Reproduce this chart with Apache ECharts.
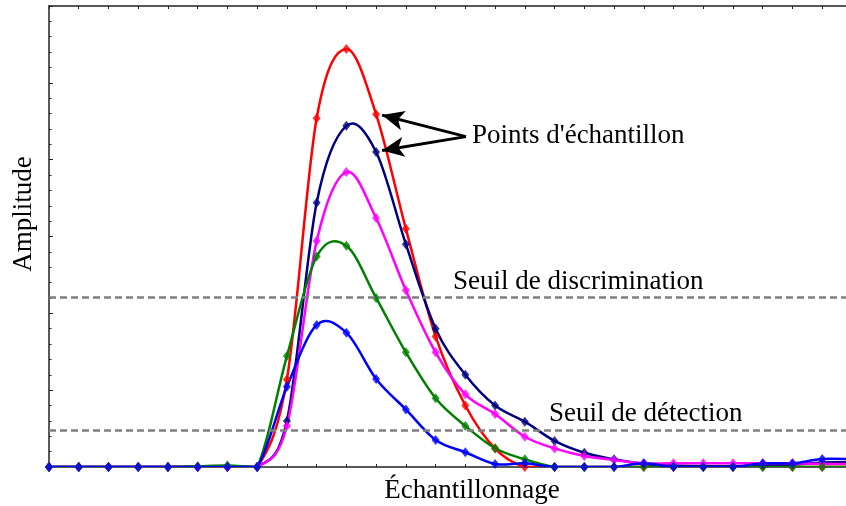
<!DOCTYPE html>
<html>
<head>
<meta charset="utf-8">
<script src="https://cdn.jsdelivr.net/npm/echarts@6/dist/echarts.min.js"></script>
<style>
    html, body { margin: 0; padding: 0; background: #fff; }
    #main { width: 846px; height: 506px; }
</style>
</head>
<body>
<div id="main"></div>
<script>
// sample index 0..27 (last one falls just outside the frame)
var samples = [0,1,2,3,4,5,6,7,8,9,10,11,12,13,14,15,16,17,18,19,20,21,22,23,24,25,26,27];

var redVals     = [0,0,0,0,0,0,0,0,5.7,22.7,27.2,22.95,15.5,8.5,4.0,1.2,0,0,0,0,0,0,0,0,0,0,0,0];
var navyVals    = [0,0,0,0,0,0,0,0,3.0,17.2,22.2,20.5,14.5,9.0,6.0,4.0,2.95,1.7,0.93,0.5,0.2,0.1,0.05,0.05,0.1,0.15,0.3,0.3];
var magentaVals = [0,0,0,0,0,0,0,0,2.67,14.7,19.2,16.2,11.5,7.46,4.73,3.45,1.97,1.21,0.72,0.46,0.24,0.24,0.24,0.24,0.24,0.24,0.2,0.2];
var greenVals   = [0,0,0,0,0,0.05,0.1,0,7.22,13.7,14.4,11.0,7.46,4.47,2.67,1.22,0.5,0,0,0,0,0,0,0,0,0,0,0];
var blueVals    = [0,0,0,0,0,0,0,0,5.22,9.24,8.74,5.73,3.75,1.76,0.96,0.2,0.24,0,0,0,0.24,0,0,0,0.24,0.24,0.52,0.52];

// seuils
var seuilDiscrimination = 11.05;
var seuilDetection = 2.4;

// arrows of "Points d'échantillon" : [start, end] in data coords
var arrowFrom = [14.02, 21.5];
var arrowTo1 = [11.2, 22.9];
var arrowTo2 = [11.2, 20.6];

var serif = '"Liberation Serif", "Times New Roman", serif';
var font = '27px ' + serif;

function pairs(vals) {
    return samples.map(function (x, i) { return [x, vals[i]]; });
}

// smooth curve through the samples (catmull-rom, drawn segment by segment)
function curveSeries(color, vals) {
    return {
        type: 'custom',
        data: pairs(vals),
        clip: true,
        silent: true,
        renderItem: function (params, api) {
            var i = params.dataIndexInside;
            var n = params.dataInsideLength;
            if (i >= n - 1) return null;
            function pt(k) {
                k = Math.max(0, Math.min(n - 1, k));
                return api.coord([api.value(0, k), api.value(1, k)]);
            }
            var p0 = pt(i - 1), p1 = pt(i), p2 = pt(i + 1), p3 = pt(i + 2);
            var base = api.coord([0, 0])[1];
            var cpy1 = Math.min(base, p1[1] + (p2[1] - p0[1]) / 6);
            var cpy2 = Math.min(base, p2[1] - (p3[1] - p1[1]) / 6);
            return {
                type: 'bezierCurve',
                shape: {
                    x1: p1[0], y1: p1[1], x2: p2[0], y2: p2[1],
                    cpx1: p1[0] + (p2[0] - p0[0]) / 6, cpy1: cpy1,
                    cpx2: p2[0] - (p3[0] - p1[0]) / 6, cpy2: cpy2
                },
                style: { stroke: color, lineWidth: 2.5, fill: 'none' }
            };
        }
    };
}

function markerSeries(color, vals) {
    return {
        type: 'scatter',
        data: pairs(vals),
        symbol: 'diamond',
        symbolSize: [8, 10],
        itemStyle: { color: color },
        silent: true,
        clip: true
    };
}

var chart = echarts.init(document.getElementById('main'));

var curves = [
    ['#ff0000', redVals],
    ['#000080', navyVals],
    ['#ff00ff', magentaVals],
    ['#008000', greenVals],
    ['#0000ff', blueVals]
];

var series = [{
    type: 'line',
    data: [],
    markLine: {
        silent: true,
        symbol: 'none',
        label: { show: false },
        lineStyle: { color: '#7f7f7f', width: 2.5, type: [7, 4] },
        data: [
            { yAxis: seuilDiscrimination },
            { yAxis: seuilDetection }
        ]
    }
}];

curves.forEach(function (c) {
    series.push(curveSeries(c[0], c[1]));
    series.push(markerSeries(c[0], c[1]));
});

series.push({
    type: 'line',
    data: [],
    markLine: {
        silent: true,
        symbol: ['none', 'arrow'],
        symbolSize: [15, 22],
        label: { show: false },
        lineStyle: { color: '#000', width: 3, type: 'solid' },
        data: [
            [{ coord: arrowFrom }, { coord: arrowTo1 }],
            [{ coord: arrowFrom }, { coord: arrowTo2 }]
        ]
    }
});

var axisCommon = {
    type: 'value',
    min: 0,
    max: 26.8,
    interval: 1,
    axisLine: { show: true, lineStyle: { color: '#222', width: 1.5 } },
    axisTick: { show: true, inside: true, length: 3, lineStyle: { color: '#222' } },
    axisLabel: { show: false },
    splitLine: { show: false }
};

var option = {
    animation: false,
    backgroundColor: '#fff',
    grid: { left: 49, right: 0, top: 6, bottom: 39 },
    xAxis: [
        Object.assign({ position: 'bottom' }, axisCommon),
        Object.assign({ position: 'top' }, axisCommon)
    ],
    yAxis: {
        type: 'value',
        min: 0,
        max: 30,
        interval: 5,
        axisLine: { show: true, lineStyle: { color: '#222', width: 1.5 } },
        axisTick: { show: true, inside: true, length: 4, lineStyle: { color: '#222' } },
        minorTick: { show: true, splitNumber: 5, length: 2.5, lineStyle: { color: '#222' } },
        axisLabel: { show: false },
        splitLine: { show: false }
    },
    graphic: [
        { type: 'text', x: 24, y: 214, rotation: Math.PI / 2,
          style: { text: 'Amplitude', font: font, fill: '#000', textAlign: 'center', textVerticalAlign: 'middle' } },
        { type: 'text', x: 472, y: 491,
          style: { text: 'Échantillonnage', font: font, fill: '#000', textAlign: 'center', textVerticalAlign: 'middle' } },
        { type: 'text', x: 472, y: 136,
          style: { text: "Points d'échantillon", font: font, fill: '#000', textAlign: 'left', textVerticalAlign: 'middle' } },
        { type: 'text', x: 453, y: 282,
          style: { text: 'Seuil de discrimination', font: font, fill: '#000', textAlign: 'left', textVerticalAlign: 'middle' } },
        { type: 'text', x: 549, y: 414,
          style: { text: 'Seuil de détection', font: font, fill: '#000', textAlign: 'left', textVerticalAlign: 'middle' } }
    ],
    series: series
};

chart.setOption(option);
</script>
</body>
</html>
